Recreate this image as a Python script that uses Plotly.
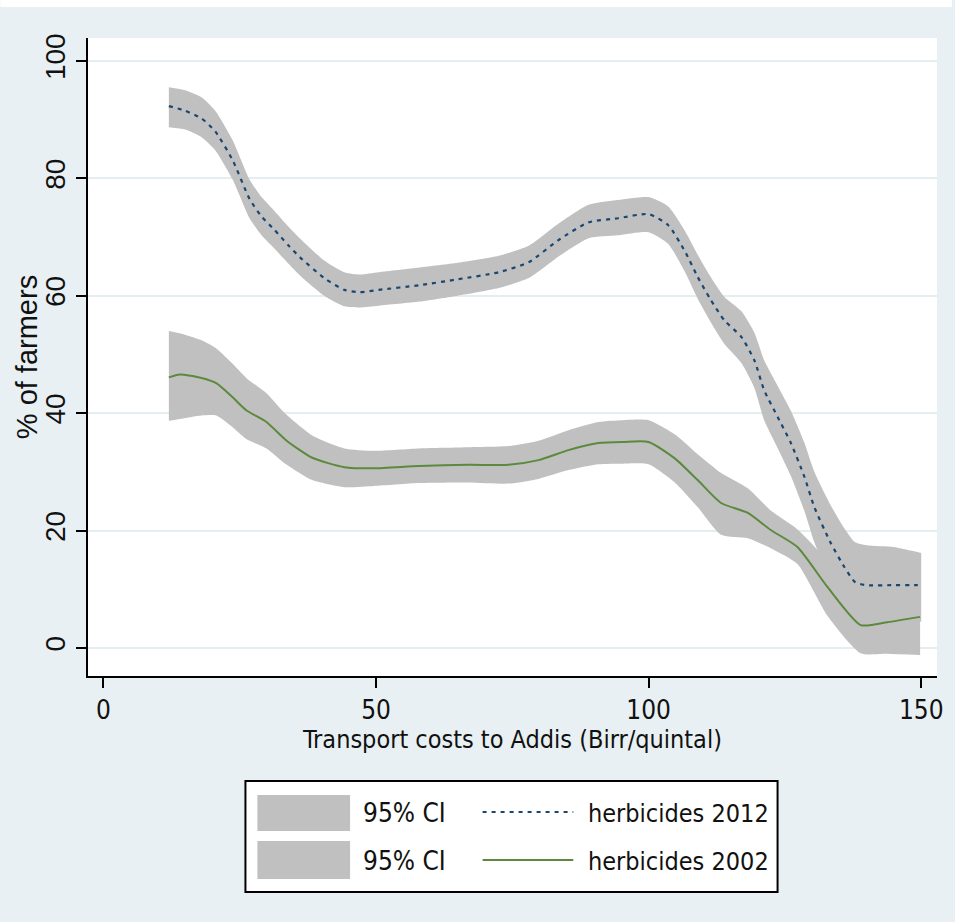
import plotly.graph_objects as go

# Local-polynomial fits of herbicide adoption against transport cost, with 95% CIs
x_2012 = [12, 15, 18, 20.5, 23.7, 26.8, 29, 31.4, 34, 36, 40.5, 44.2, 47, 50.5, 58, 65,
          72.5, 78, 83.5, 89, 94.4, 100, 103.6, 106.7, 109, 111.4, 113.9, 117, 119.4,
          121.2, 123.7, 126.1, 128.6, 130.4, 133.4, 135.9, 137.9, 140, 145, 148, 150]
y_2012 = [92.3, 91.5, 90.2, 88.0, 83.1, 76.5, 73.5, 71.2, 68.5, 66.6, 63.0, 61.0, 60.6,
          61.0, 61.8, 62.8, 64.0, 65.7, 69.5, 72.5, 73.2, 73.9, 72.0, 67.5, 63.2, 59.3,
          55.8, 53.0, 49.0, 43.9, 39.3, 34.9, 29.1, 24.0, 17.9, 13.8, 11.2, 10.7, 10.7,
          10.7, 10.7]
lo_2012 = [88.7, 88.3, 87.0, 84.8, 79.8, 73.2, 70.3, 68.0, 65.4, 63.5, 60.0, 58.2, 58.0,
           58.3, 59.0, 60.0, 61.3, 63.0, 66.7, 69.8, 70.3, 70.8, 68.8, 64.0, 59.5, 55.5,
           51.8, 48.6, 44.3, 38.8, 34.0, 29.3, 23.3, 18.0, 11.5, 7.2, 4.3, 3.8, 4.0,
           4.2, 4.5]
hi_2012 = [95.5, 95.0, 93.8, 91.5, 86.5, 79.8, 76.8, 74.4, 71.7, 69.8, 66.0, 64.0, 63.6,
           64.0, 64.8, 65.6, 66.8, 68.5, 72.3, 75.5, 76.3, 76.8, 75.2, 71.0, 67.0, 63.2,
           59.8, 57.4, 53.7, 49.0, 44.6, 40.4, 34.9, 30.0, 24.3, 20.4, 18.0, 17.5, 17.2,
           16.6, 16.2]

x_2002 = [12, 14, 18, 20.7, 23.7, 26.2, 29.9, 33.5, 38.3, 44.2, 49.6, 57.9, 67, 74.3,
          79.8, 85.3, 90.8, 95.3, 100, 104.8, 109, 113.3, 118.2, 122.4, 127.3, 132.8,
          138.9, 143.8, 149.8]
y_2002 = [46.1, 46.6, 46.0, 45.1, 42.7, 40.5, 38.5, 35.4, 32.4, 30.8, 30.6, 31.0, 31.2,
          31.2, 32.0, 33.7, 34.9, 35.1, 35.1, 32.3, 28.6, 24.7, 23.0, 20.1, 17.2, 10.4,
          3.9, 4.4, 5.3]
lo_2002 = [38.7, 39.0, 39.6, 39.6, 37.6, 35.6, 34.0, 31.3, 28.6, 27.4, 27.6, 28.1, 28.2,
           28.0, 28.8, 30.3, 31.3, 31.4, 31.3, 28.2, 24.0, 19.3, 18.7, 17.0, 14.3, 5.5,
           -0.9, -1.0, -1.2]
hi_2002 = [54.0, 53.6, 52.4, 51.0, 48.4, 46.0, 43.4, 39.8, 36.2, 34.0, 33.6, 34.0, 34.2,
           34.4, 35.3, 37.1, 38.5, 38.8, 38.8, 36.4, 33.0, 29.8, 27.2, 23.4, 20.2, 15.0,
           9.0, 9.8, 11.8]

series_names = ["herbicides 2012", "herbicides 2002"]
ci_label = "95% CI"
x_ticks = [0, 50, 100, 150]
y_ticks = [0, 20, 40, 60, 80, 100]
x_title = "Transport costs to Addis (Birr/quintal)"
y_title = "% of farmers"

BG = "#e8f0f3"
BAND = "#c0c0c0"
GRID = "#e4eef1"
C2012 = "#1a476f"
C2002 = "#5b8a3c"
INK = "#111111"
NARROW = "DejaVu Sans Condensed, Liberation Sans, Arial, sans-serif"
REGULAR = "Liberation Sans, Arial, sans-serif"
LINE_STYLE = [dict(color=C2012, width=2.2, dash="4px,5px"), dict(color=C2002, width=2)]

W, H = 955, 922
L, R, T, B = 88, 940, 38, 676   # plot-area edges in pixels

fig = go.Figure()

# confidence bands first, then the fitted lines on top
for xs, lo, hi in [(x_2012, lo_2012, hi_2012), (x_2002, lo_2002, hi_2002)]:
    fig.add_trace(go.Scatter(x=xs, y=lo, mode="lines",
                             line=dict(width=0, color=BAND, shape="spline", smoothing=0.6),
                             showlegend=False, hoverinfo="skip"))
    fig.add_trace(go.Scatter(x=xs, y=hi, mode="lines",
                             line=dict(width=0, color=BAND, shape="spline", smoothing=0.6),
                             fill="tonexty", fillcolor=BAND, name=ci_label,
                             showlegend=False))

for xs, ys, name, st in [(x_2012, y_2012, series_names[0], LINE_STYLE[0]),
                         (x_2002, y_2002, series_names[1], LINE_STYLE[1])]:
    fig.add_trace(go.Scatter(x=xs, y=ys, mode="lines",
                             line=dict(st, shape="spline", smoothing=0.6), name=name,
                             showlegend=False))


def px(xp):
    return (xp - L) / (R - L)


def py(yp):
    return (B - yp) / (B - T)


shapes = []
annotations = []

# white strip along the top edge of the page
shapes.append(dict(type="rect", xref="paper", yref="paper", x0=px(0), x1=px(W),
                   y0=py(7), y1=py(0), fillcolor="white", line=dict(width=0),
                   layer="below"))

# y-axis title, set as rotated text left of the tick labels
annotations.append(dict(xref="paper", yref="paper", x=px(27), y=0.5, text=y_title,
                        textangle=-90, showarrow=False, xanchor="center",
                        yanchor="middle",
                        font=dict(family=REGULAR, size=29, color=INK)))

# legend box: two rows, each with a CI swatch and a line sample
shapes.append(dict(type="rect", xref="paper", yref="paper", x0=px(246), x1=px(780),
                   y0=py(892), y1=py(781), fillcolor="white",
                   line=dict(color="black", width=2)))
rows = [(795, 831, 813), (841, 879, 861)]
for (top, bot, mid), name, st in zip(rows, series_names, LINE_STYLE):
    shapes.append(dict(type="rect", xref="paper", yref="paper", x0=px(258), x1=px(351),
                       y0=py(bot), y1=py(top), fillcolor=BAND, line=dict(width=0)))
    shapes.append(dict(type="line", xref="paper", yref="paper", x0=px(484), x1=px(575),
                       y0=py(mid - 1), y1=py(mid - 1), line=st))
    annotations.append(dict(xref="paper", yref="paper", x=px(362), y=py(mid),
                            text=ci_label, showarrow=False, xanchor="left",
                            yanchor="middle",
                            font=dict(family=NARROW, size=26, color=INK)))
    annotations.append(dict(xref="paper", yref="paper", x=px(588), y=py(mid),
                            text=name, showarrow=False, xanchor="left",
                            yanchor="middle",
                            font=dict(family=NARROW, size=25, color=INK)))

fig.update_layout(
    width=W, height=H,
    margin=dict(l=L, r=W - R, t=T, b=H - B),
    paper_bgcolor=BG, plot_bgcolor="white",
    showlegend=False,
    shapes=shapes, annotations=annotations,
    xaxis=dict(range=[-2.83, 152.9], tickvals=x_ticks, showgrid=False, zeroline=False,
               showline=True, linecolor="black", linewidth=2,
               ticks="outside", ticklen=10, tickwidth=2, tickcolor="black",
               tickfont=dict(family=NARROW, size=26, color=INK),
               title=dict(text=x_title, standoff=4,
                          font=dict(family=NARROW, size=25, color=INK))),
    yaxis=dict(range=[-4.77, 103.9], tickvals=y_ticks, showgrid=True, gridcolor=GRID,
               gridwidth=2, zeroline=False,
               showline=True, linecolor="black", linewidth=2,
               ticks="outside", ticklen=10, tickwidth=2, tickcolor="black",
               tickangle=-90,
               tickfont=dict(family=REGULAR, size=28, color=INK)),
)

fig.write_html("out.html")
